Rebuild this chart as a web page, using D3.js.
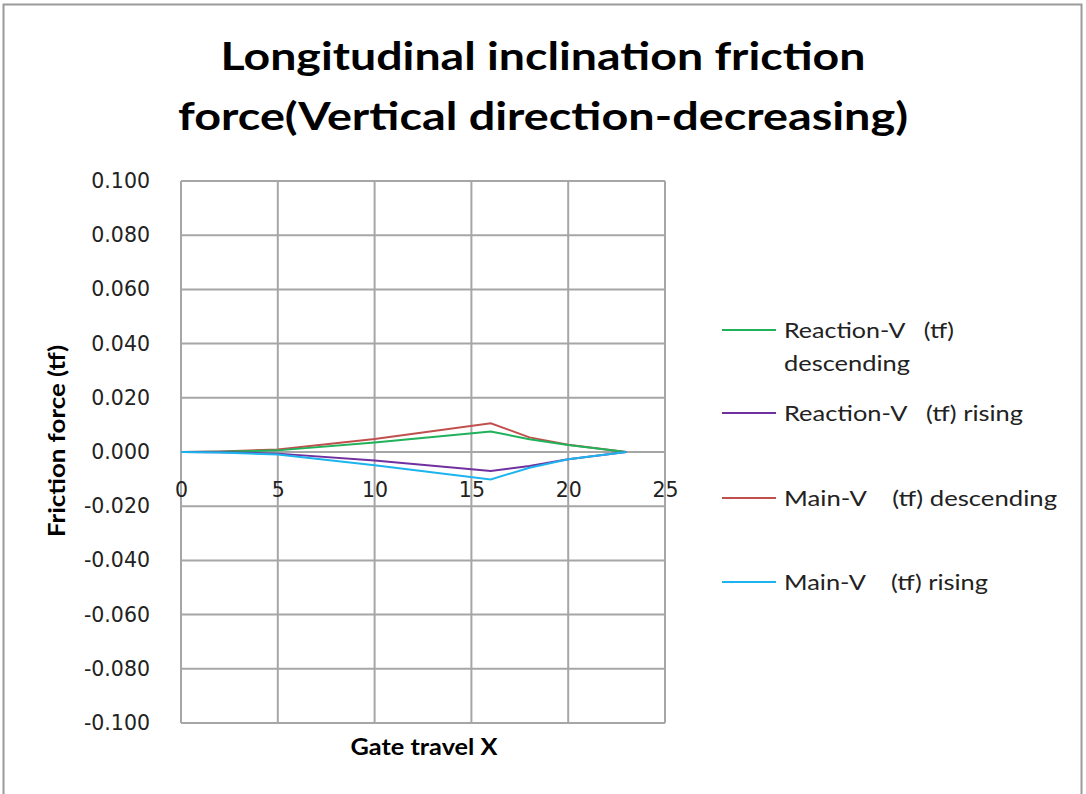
<!DOCTYPE html>
<html><head><meta charset="utf-8">
<script src="https://cdn.jsdelivr.net/npm/d3@7"></script>
<style>body{margin:0;background:#fff}svg{display:block}</style>
</head><body><svg id="c" width="1086" height="794"></svg>
<script>
const xValues = [0, 2, 5, 10, 16, 18, 20, 23];
const seriesNames = ["Reaction-V   (tf) descending", "Reaction-V   (tf) rising", "Main-V    (tf) descending", "Main-V    (tf) rising"];
const reactionDesc = [0, 0.0001, 0.0006, 0.0035, 0.0076, 0.0047, 0.0026, 0];
const reactionRise = [0, -0.0001, -0.0006, -0.0031, -0.0070, -0.0052, -0.0027, 0];
const mainDesc = [0, 0.0002, 0.0009, 0.0048, 0.0106, 0.0054, 0.0027, 0];
const mainRise = [0, -0.0002, -0.0009, -0.0049, -0.0101, -0.0058, -0.0027, 0];
const seriesColors = ["#1fb25a", "#7030a0", "#c0504d", "#1cb4ef"];
const xTicks = [0, 5, 10, 15, 20, 25];
const yTicks = [-0.1, -0.08, -0.06, -0.04, -0.02, 0, 0.02, 0.04, 0.06, 0.08, 0.1];
const titleLines = ["Longitudinal inclination friction", "force(Vertical direction-decreasing)"];

const svg = d3.select("#c");
const font = "Lato, 'Open Sans', sans-serif";
const tickFont = "'DejaVu Sans', sans-serif";
svg.append("rect").attr("x", 3.5).attr("y", 4.5).attr("width", 1078).attr("height", 800)
  .attr("fill", "#fff").attr("stroke", "#9a9a9a").attr("stroke-width", 2);

const L = 181, R = 665, T = 181, B = 723;
const x = d3.scaleLinear().domain([0, 25]).range([L, R]);
const y = d3.scaleLinear().domain([-0.1, 0.1]).range([B, T]);

// gridlines
const g = svg.append("g");
g.selectAll(".hg").data(yTicks).join("line")
  .attr("x1", L).attr("x2", R).attr("y1", d => y(d)).attr("y2", d => y(d))
  .attr("stroke", "#a6a6a6").attr("stroke-width", 2);
g.selectAll(".vg").data(xTicks).join("line")
  .attr("y1", T).attr("y2", B).attr("x1", d => x(d)).attr("x2", d => x(d))
  .attr("stroke", "#a6a6a6").attr("stroke-width", 2);

// y axis labels
const fmt = d3.format(".3f");
const yAxis = d3.axisLeft(y).tickValues(yTicks).tickFormat(d => fmt(d).replace("\u2212", "-")).tickSize(0).tickPadding(31);
const ya = svg.append("g").attr("transform", `translate(${L},0)`).call(yAxis);
ya.select(".domain").remove();
ya.selectAll("text").attr("font-family", tickFont).attr("font-size", 20.5).attr("fill", "#222");

// x axis labels (at zero line)
const xAxis = d3.axisBottom(x).tickValues(xTicks).tickFormat(d3.format("d")).tickSize(0).tickPadding(45);
const xa = svg.append("g").attr("transform", `translate(0,${y(0)})`).call(xAxis);
xa.select(".domain").remove();
xa.selectAll("text").attr("font-family", tickFont).attr("font-size", 20.5).attr("fill", "#222").attr("dy", "0");

// lines
const allSeries = [reactionDesc, reactionRise, mainDesc, mainRise];
const line = d3.line().x((d, i) => x(xValues[i])).y(d => y(d));
const order = [2, 0, 1, 3];
order.forEach(k => {
  svg.append("path").datum(allSeries[k]).attr("d", line)
    .attr("fill", "none").attr("stroke", seriesColors[k]).attr("stroke-width", 2);
});

// title
const titleLen = [645, 730];
svg.append("g").selectAll("text").data(titleLines).join("text")
  .attr("x", 543).attr("y", (d, i) => 70 + i * 60).attr("text-anchor", "middle")
  .attr("font-family", font).attr("font-weight", "bold").attr("font-size", 39).attr("fill", "#000")
  .attr("textLength", (d, i) => titleLen[i]).attr("lengthAdjust", "spacingAndGlyphs")
  .text(d => d);

// axis titles
svg.append("text").attr("x", 424).attr("y", 755).attr("text-anchor", "middle")
  .attr("font-family", font).attr("font-weight", "bold").attr("font-size", 22).attr("fill", "#000")
  .attr("textLength", 147).attr("lengthAdjust", "spacingAndGlyphs")
  .text("Gate travel X");
svg.append("text").attr("transform", "translate(65,441) rotate(-90)").attr("text-anchor", "middle")
  .attr("font-family", font).attr("font-weight", "bold").attr("font-size", 22).attr("fill", "#000")
  .attr("textLength", 192).attr("lengthAdjust", "spacingAndGlyphs")
  .text("Friction force (tf)");

// legend
const legY = [330, 413, 498, 582];
const legLen = [170, 239, 273, 204];
const leg = svg.append("g");
seriesNames.forEach((name, i) => {
  leg.append("line").attr("x1", 722).attr("x2", 776).attr("y1", legY[i]).attr("y2", legY[i])
    .attr("stroke", seriesColors[i]).attr("stroke-width", 2);
  const t = leg.append("text").attr("x", 784).attr("y", legY[i] + 8)
    .attr("font-family", font).attr("font-size", 21).attr("fill", "#222");
  if (i === 0) {
    t.append("tspan").attr("x", 784).attr("textLength", legLen[0]).attr("lengthAdjust", "spacingAndGlyphs")
      .text("Reaction-V\u00a0\u00a0\u00a0(tf)");
    t.append("tspan").attr("x", 784).attr("dy", 33).attr("textLength", 126).attr("lengthAdjust", "spacingAndGlyphs")
      .text("descending");
  } else {
    t.attr("textLength", legLen[i]).attr("lengthAdjust", "spacingAndGlyphs").text(name.replace(/ /g, "\u00a0"));
  }
});
</script></body></html>
